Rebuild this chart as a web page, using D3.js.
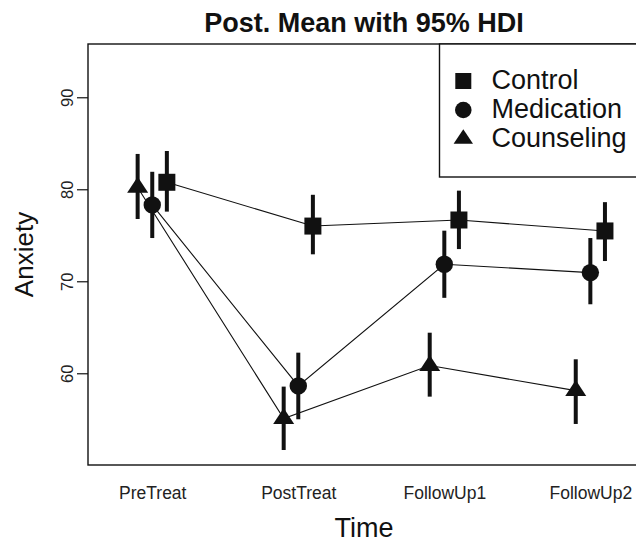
<!DOCTYPE html>
<html><head><meta charset="utf-8">
<script src="https://cdn.jsdelivr.net/npm/d3@7"></script>
<style>html,body{margin:0;padding:0;background:#fff;}svg{display:block;font-family:"Liberation Sans",Arial,Helvetica,sans-serif;}</style>
</head><body>
<svg id="chart" width="636" height="543"></svg>
<script>
const categories = ["PreTreat", "PostTreat", "FollowUp1", "FollowUp2"];
const seriesNames = ["Control", "Medication", "Counseling"];
const controlMean = [80.76, 76.0, 76.66, 75.47];
const controlLo   = [77.57, 72.93, 73.5, 72.2];
const controlHi   = [84.16, 79.4, 79.85, 78.6];
const medicationMean = [78.3, 58.62, 71.85, 70.94];
const medicationLo   = [74.7, 55.0, 68.2, 67.5];
const medicationHi   = [81.9, 62.24, 75.5, 74.7];
const counselingMean = [80.2, 55.07, 60.84, 58.11];
const counselingLo   = [76.77, 51.66, 57.46, 54.49];
const counselingHi   = [83.84, 58.55, 64.41, 61.52];
const yTicks = [60, 70, 80, 90];
const xOffsets = [0.1, 0, -0.1];   // category-unit dodge per series
const shapes = ["square", "circle", "triangle"];

const series = [
  {name: seriesNames[0], mean: controlMean, lo: controlLo, hi: controlHi, shape: shapes[0], off: xOffsets[0]},
  {name: seriesNames[1], mean: medicationMean, lo: medicationLo, hi: medicationHi, shape: shapes[1], off: xOffsets[1]},
  {name: seriesNames[2], mean: counselingMean, lo: counselingLo, hi: counselingHi, shape: shapes[2], off: xOffsets[2]}
];

const svg = d3.select("#chart");
const L = 88, R = 640, T = 44, B = 465;
const x = d3.scaleLinear().domain([0.56, 4.34]).range([L, R]);
const y = d3.scaleLinear().domain([50.03, 95.79]).range([B, T]);

function shapePath(shape, big) {
  if (shape === "triangle") {
    const hb = big ? 10.5 : 9.7, h = big ? 16 : 14.5;
    return `M0,${-2*h/3}L${hb},${h/3}L${-hb},${h/3}Z`;
  }
  return null;
}
function drawMarker(g, shape, cx, cy, big) {
  if (shape === "square") {
    const s = big ? 17 : 16;
    g.append("rect").attr("x", cx - s/2).attr("y", cy - s/2).attr("width", s).attr("height", s).attr("fill", "#111");
  } else if (shape === "circle") {
    g.append("circle").attr("cx", cx).attr("cy", cy).attr("r", big ? 8.7 : 8.3).attr("fill", "#111");
  } else {
    g.append("path").attr("d", shapePath(shape, big)).attr("transform", `translate(${cx},${cy})`).attr("fill", "#111");
  }
}

// Title
svg.append("text").attr("x", (L + R) / 2).attr("y", 31.5).attr("text-anchor", "middle")
  .attr("font-size", 27).attr("font-weight", "bold").attr("fill", "#111").text("Post. Mean with 95% HDI");

// Lines
const line = d3.line().x(d => x(d[0])).y(d => y(d[1]));
series.forEach(s => {
  svg.append("path")
    .attr("d", line(s.mean.map((v, i) => [i + 1 + s.off, v])))
    .attr("fill", "none").attr("stroke", "#111").attr("stroke-width", 1.1);
});
// Error bars
series.forEach(s => {
  s.mean.forEach((v, i) => {
    svg.append("line").attr("x1", x(i + 1 + s.off)).attr("x2", x(i + 1 + s.off))
      .attr("y1", y(s.lo[i])).attr("y2", y(s.hi[i]))
      .attr("stroke", "#111").attr("stroke-width", 4);
  });
});
// Markers
series.forEach(s => {
  const g = svg.append("g");
  s.mean.forEach((v, i) => drawMarker(g, s.shape, x(i + 1 + s.off), y(v), true));
});

// Box
svg.append("rect").attr("x", L).attr("y", T).attr("width", R - L).attr("height", B - T)
  .attr("fill", "none").attr("stroke", "#111").attr("stroke-width", 1.4);

// Y axis ticks
const yAxis = d3.axisLeft(y).tickValues(yTicks).tickSize(11).tickPadding(0).tickFormat(d3.format("d"));
const yg = svg.append("g").attr("transform", `translate(${L},0)`).call(yAxis);
yg.select(".domain").remove();
yg.selectAll(".tick line").attr("stroke", "#111").attr("stroke-width", 1.2);
yg.selectAll(".tick text").attr("font-size", 16.5).attr("fill", "#222")
  .attr("font-family", "Liberation Sans, Arial, sans-serif")
  .attr("text-anchor", "middle").attr("x", null).attr("dy", null)
  .attr("transform", "translate(-15,0) rotate(-90)");

// X labels
const xAxis = d3.axisBottom(x).tickValues(categories.map((c, i) => i + 1)).tickSize(0).tickPadding(0)
  .tickFormat((d, i) => categories[i]);
const xg = svg.append("g").attr("transform", `translate(0,${B})`).call(xAxis);
xg.select(".domain").remove();
xg.selectAll(".tick text").attr("font-size", 17.5).attr("fill", "#222")
  .attr("font-family", "Liberation Sans, Arial, sans-serif")
  .attr("y", 34).attr("dy", null);

// Axis titles
svg.append("text").attr("x", (L + R) / 2).attr("y", 537).attr("text-anchor", "middle")
  .attr("font-size", 27).attr("fill", "#111").text("Time");
svg.append("text").attr("transform", `translate(33,${(T + B) / 2}) rotate(-90)`).attr("text-anchor", "middle")
  .attr("font-size", 26).attr("fill", "#111").text("Anxiety");

// Legend
const lg = svg.append("g");
lg.append("rect").attr("x", 439.5).attr("y", T).attr("width", 220).attr("height", 177 - T)
  .attr("fill", "#fff").attr("stroke", "#111").attr("stroke-width", 1.4);
series.forEach((s, i) => {
  const cy = 81 + i * 29;
  drawMarker(lg, s.shape, 463.3, cy, false);
  lg.append("text").attr("x", 491.5).attr("y", cy + 8.3).attr("font-size", 27).attr("fill", "#111").text(s.name);
});
</script>
</body></html>
